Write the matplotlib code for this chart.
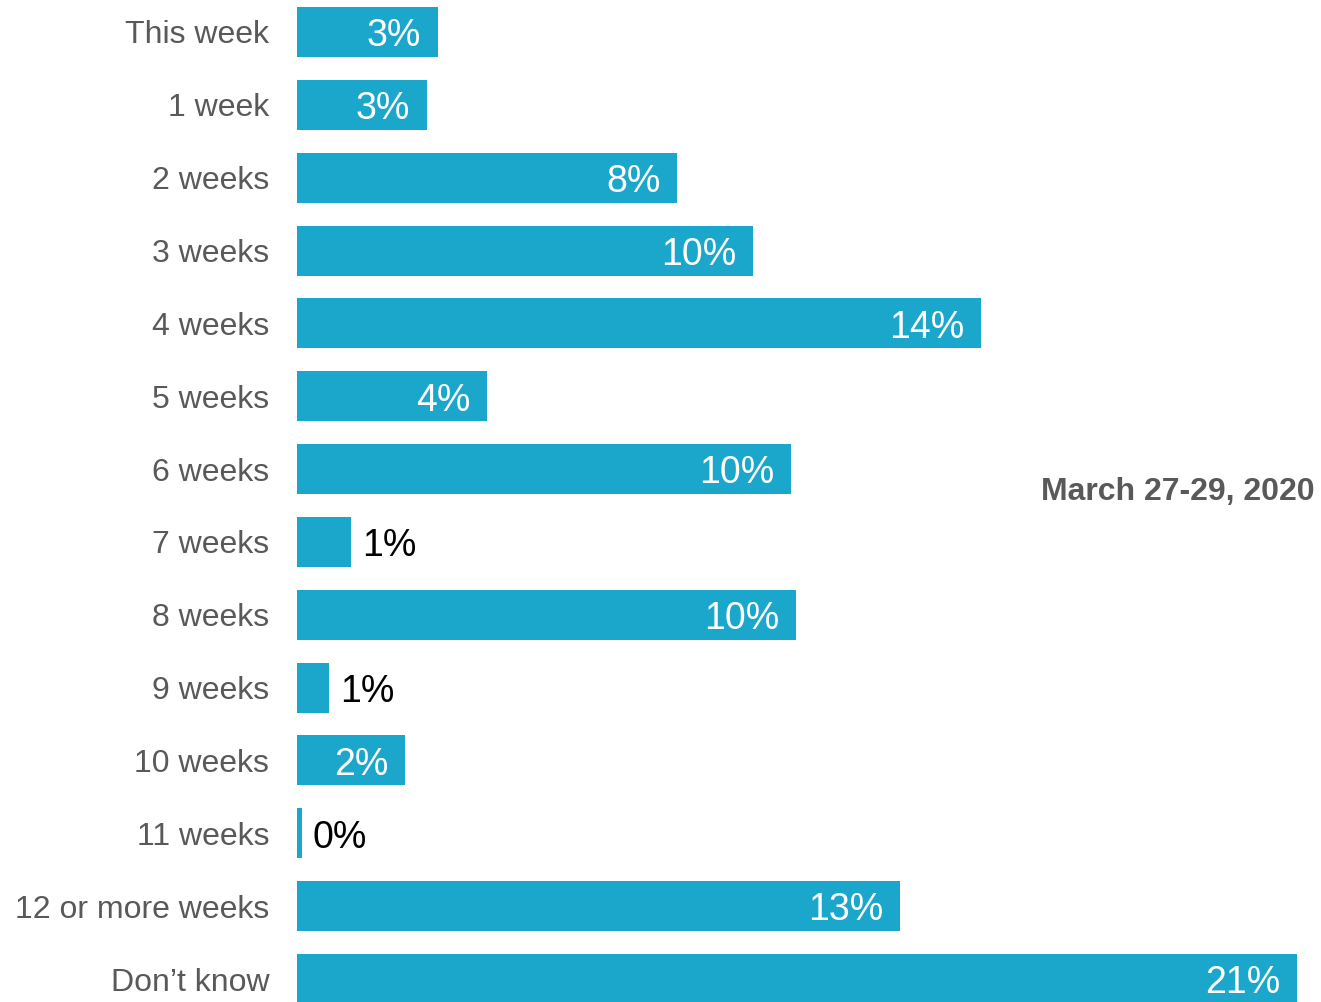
import matplotlib
matplotlib.use("Agg")
import matplotlib.pyplot as plt

plt.rcParams['font.family'] = ['Liberation Sans', 'DejaVu Sans']

categories = ["This week", "1 week", "2 weeks", "3 weeks", "4 weeks", "5 weeks",
              "6 weeks", "7 weeks", "8 weeks", "9 weeks", "10 weeks", "11 weeks",
              "12 or more weeks", "Don\u2019t know"]
shares = [2.96, 2.73, 7.98, 9.58, 14.36, 3.99, 10.37, 1.13, 10.48, 0.67, 2.27, 0.10,
          12.66, 21.0]
survey_dates = "March 27-29, 2020"

BAR = "#1AA7CB"
GREY = "#595959"

fig = plt.figure(figsize=(13.21, 10.02), dpi=100)
W, H = 1321, 1002
row = 72.85
top_px = 32 - row / 2
bot_px = 979 + row / 2
ax = fig.add_axes([297 / W, 1 - bot_px / H, 1000 / W, (bot_px - top_px) / H])

y = list(range(len(categories)))
ax.barh(y, shares, height=0.686, color=BAR, edgecolor="none")
ax.set_xlim(0, 21.0)
ax.set_ylim(len(categories) - 0.5, -0.5)

# value labels: white inside the bar end, black just past short bars
for yi, v in zip(y, shares):
    label = f"{v:.0f}%"
    if v >= 2:
        ax.annotate(label, (v, yi), xytext=(-12, -10.3), textcoords="offset points",
                    ha="right", va="baseline", color="white", fontsize=27)
    else:
        ax.annotate(label, (v, yi), xytext=(8, -10.3), textcoords="offset points",
                    ha="left", va="baseline", color="black", fontsize=27)

ax.set_yticks(y)
ax.set_yticklabels(categories, fontsize=23, color=GREY)
ax.tick_params(axis="y", length=0, pad=20)
ax.set_xticks([])
for s in ax.spines.values():
    s.set_visible(False)

fig.text(1315 / W, 1 - 492 / H, survey_dates, ha="right", va="center",
         fontsize=23, fontweight="bold", color=GREY)

fig.savefig("out.png", dpi=100)
